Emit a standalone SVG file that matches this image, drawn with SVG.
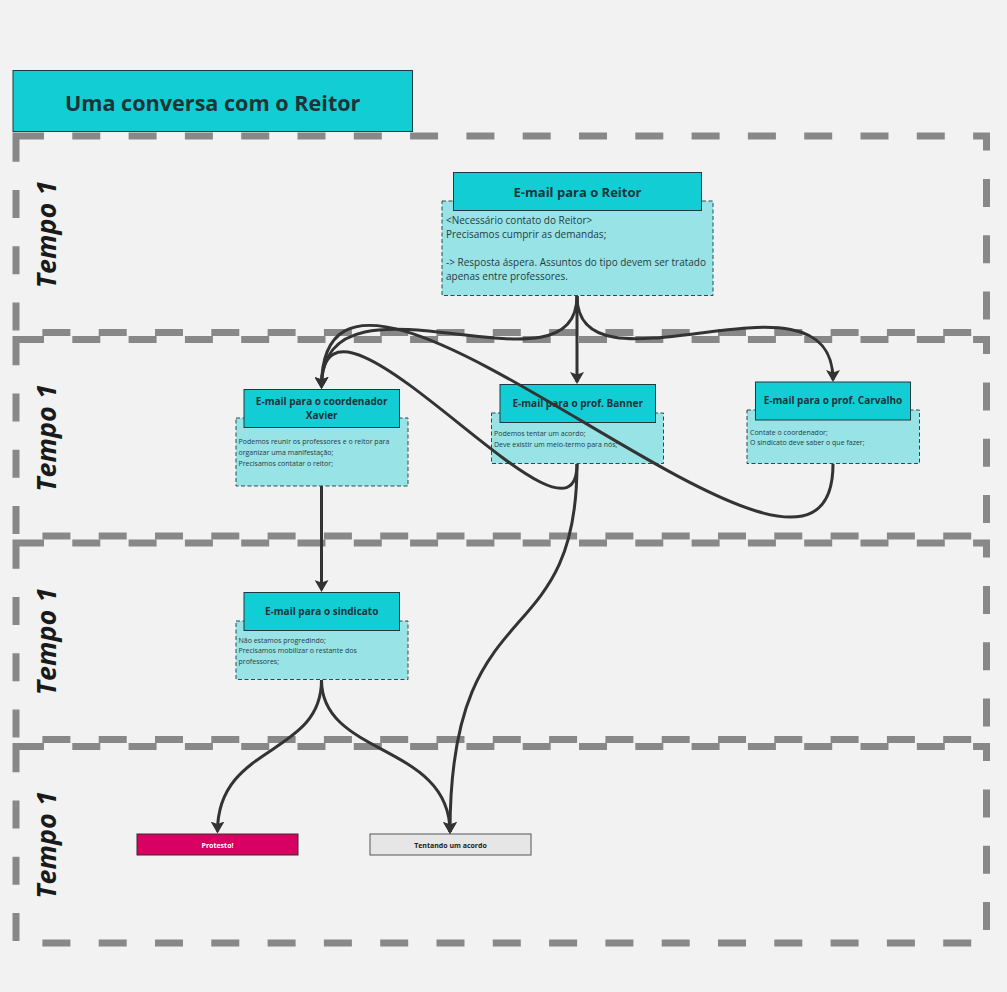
<svg xmlns="http://www.w3.org/2000/svg" width="1007" height="992" viewBox="0 0 1007 992">
<defs>
<marker id="arr" viewBox="0 0 12 14" refX="10" refY="7" markerWidth="12" markerHeight="14" markerUnits="userSpaceOnUse" orient="auto">
<path d="M0,0 L12,7 L0,14 L2.5,7 z" fill="#333333"/>
</marker>
<style>
.lane{fill:none;stroke:#888888;stroke-width:7;stroke-dasharray:28 28.3}
.lbl{font-family:"Open Sans","Noto Sans",sans-serif;font-weight:bold;font-style:italic;font-size:27px;fill:#1a1a1a;text-anchor:middle}
.hd{fill:#13cdd4;stroke:#1d3a3f;stroke-width:1}
.bd{fill:#97e3e6;stroke:#2f4a4f;stroke-width:1;stroke-dasharray:4 2.5}
.ht{font-family:"Open Sans","Noto Sans",sans-serif;font-weight:bold;fill:#1d3338;text-anchor:middle}
.bt{font-family:"Open Sans","Noto Sans",sans-serif;fill:#2a3a3e}
.cn{fill:none;stroke:#333333;stroke-width:3;marker-end:url(#arr)}
</style>
</defs>
<rect width="1007" height="992" fill="#f2f2f2"/>
<g id="lanes">
<rect class="lane" x="16" y="136" width="970.5" height="196.5"/>
<rect class="lane" x="16" y="339.5" width="970.5" height="196.5"/>
<rect class="lane" x="16" y="543" width="970.5" height="196.5"/>
<rect class="lane" x="16" y="746.5" width="970.5" height="196.5"/>
<text class="lbl" transform="translate(56,234.5) rotate(-90)">Tempo 1</text>
<text class="lbl" transform="translate(56,438) rotate(-90)">Tempo 1</text>
<text class="lbl" transform="translate(56,641.5) rotate(-90)">Tempo 1</text>
<text class="lbl" transform="translate(56,845) rotate(-90)">Tempo 1</text>
</g>
<g id="title">
<rect x="13" y="70.5" width="399.5" height="61" fill="#13cdd4" stroke="#1d3a3f" stroke-width="1"/>
<text class="ht" x="212.7" y="110.5" font-size="21.6">Uma conversa com o Reitor</text>
</g>
<g id="n-reitor">
<rect class="bd" x="442" y="201" width="271" height="94.5"/>
<rect class="hd" x="453.5" y="172.5" width="248" height="38"/>
<text class="ht" x="577.5" y="197" font-size="13">E-mail para o Reitor</text>
<text class="bt" font-size="10"><tspan x="446" y="223.5">&lt;Necessário contato do Reitor&gt;</tspan><tspan x="446" y="237.5">Precisamos cumprir as demandas;</tspan><tspan x="446" y="265.5">-&gt; Resposta áspera. Assuntos do tipo devem ser tratado</tspan><tspan x="446" y="279.5">apenas entre professores.</tspan></text>
</g>
<g id="n-xavier">
<rect class="bd" x="236" y="418" width="172" height="68"/>
<rect class="hd" x="244" y="389.5" width="155.5" height="38"/>
<text class="ht" font-size="10"><tspan x="321.7" y="405">E-mail para o coordenador</tspan><tspan x="321.7" y="418.5">Xavier</tspan></text>
<text class="bt" font-size="7"><tspan x="238.5" y="444">Podemos reunir os professores e o reitor para</tspan><tspan x="238.5" y="455">organizar uma manifestação;</tspan><tspan x="238.5" y="466">Precisamos contatar o reitor;</tspan></text>
</g>
<g id="n-banner">
<rect class="bd" x="491.5" y="413" width="172" height="50.5"/>
<rect class="hd" x="500" y="384.5" width="155.5" height="38"/>
<text class="ht" x="577.7" y="406.8" font-size="10">E-mail para o prof. Banner</text>
<text class="bt" font-size="7"><tspan x="494" y="435.8">Podemos tentar um acordo;</tspan><tspan x="494" y="446.5">Deve existir um meio-termo para nós;</tspan></text>
</g>
<g id="n-carvalho">
<rect class="bd" x="747" y="410" width="172.5" height="53.5"/>
<rect class="hd" x="755.5" y="382" width="155" height="38"/>
<text class="ht" x="833" y="403.5" font-size="10">E-mail para o prof. Carvalho</text>
<text class="bt" font-size="7"><tspan x="750" y="434.8">Contate o coordenador;</tspan><tspan x="750" y="445.2">O sindicato deve saber o que fazer;</tspan></text>
</g>
<g id="n-sindicato">
<rect class="bd" x="236" y="621" width="172" height="58.5"/>
<rect class="hd" x="244" y="592.5" width="155.5" height="38"/>
<text class="ht" x="321.7" y="614.5" font-size="10">E-mail para o sindicato</text>
<text class="bt" font-size="7"><tspan x="238.5" y="642.5">Não estamos progredindo;</tspan><tspan x="238.5" y="653">Precisamos mobilizar o restante dos</tspan><tspan x="238.5" y="663.5">professores;</tspan></text>
</g>
<g id="n-protesto">
<rect x="137" y="834" width="161" height="21" fill="#d80062" stroke="#3a2a30" stroke-width="1"/>
<text class="ht" x="217.5" y="847.5" font-size="7" style="fill:#ffffff">Protesto!</text>
</g>
<g id="n-acordo">
<rect x="370" y="834" width="161" height="21" fill="#e6e6e6" stroke="#555555" stroke-width="1"/>
<text class="ht" x="450.5" y="847.5" font-size="7" style="fill:#222222">Tentando um acordo</text>
</g>
<g id="connectors">
<path class="cn" d="M577,296 L577,382"/>
<path class="cn" d="M577,296 C577,405 321.5,256 321.5,387"/>
<path class="cn" d="M577,296 C577,405 833,256 833,380"/>
<path class="cn" d="M577,464 C577,578 321.5,247 321.5,387"/>
<path class="cn" d="M833,464 C833,680 321.5,152 321.5,387"/>
<path class="cn" d="M577,464 C577,659 450,584 450,832"/>
<path class="cn" d="M321.5,486 L321.5,590"/>
<path class="cn" d="M321.5,680 C321.5,757 217.5,743 217.5,831.5"/>
<path class="cn" d="M321.5,680 C321.5,757 450,743 450,832"/>
</g>
</svg>
